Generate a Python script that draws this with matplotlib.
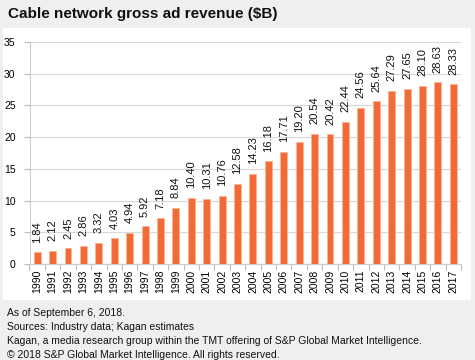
import matplotlib.pyplot as plt
from matplotlib.patches import Rectangle

years = [str(y) for y in range(1990, 2018)]
revenue = [1.84, 2.12, 2.45, 2.86, 3.32, 4.03, 4.94, 5.92, 7.18, 8.84,
           10.40, 10.31, 10.76, 12.58, 14.23, 16.18, 17.71, 19.20, 20.54, 20.42,
           22.44, 24.56, 25.64, 27.29, 27.65, 28.10, 28.63, 28.33]
yticks = [0, 5, 10, 15, 20, 25, 30, 35]

plt.rcParams['font.family'] = ['Liberation Sans', 'DejaVu Sans']

fig = plt.figure(figsize=(4.75, 3.6), dpi=100, facecolor='#efefef')
# white panel behind the chart
fig.patches.append(Rectangle((3 / 475, 1 - 300 / 360), 468 / 475, 272 / 360,
                             transform=fig.transFigure, facecolor='white',
                             edgecolor='none', zorder=-5))

ax = fig.add_axes([29.5 / 475, 1 - 264 / 360, 431.5 / 475, 222 / 360])
ax.set_facecolor('none')

x = list(range(len(years)))
ax.bar(x, revenue, width=0.45, color='#f26b36', edgecolor='#f8b597', linewidth=0.6, zorder=3)
for xi, v in zip(x, revenue):
    ax.annotate(f"{v:.2f}", (xi, v), xytext=(0, 7), textcoords='offset points',
                rotation=90, ha='center', va='bottom', fontsize=8, color='#111111')

ax.set_xlim(-0.5, len(years) - 0.5)
ax.set_ylim(0, 35)
ax.set_yticks(yticks)
ax.set_yticklabels([str(t) for t in yticks], fontsize=7.5)
ax.yaxis.grid(True, color='#d9d9d9', linewidth=0.9, zorder=0)
ax.set_axisbelow(True)

ax.set_xticks(x)
ax.set_xticklabels(years, rotation=90, fontsize=7.5)
ax.tick_params(axis='x', length=0, pad=4)
ax.set_xticks([i - 0.5 for i in range(len(years) + 1)], minor=True)
ax.tick_params(axis='x', which='minor', length=4, color='#bbbbbb', width=0.8)
ax.tick_params(axis='y', length=4, color='#bbbbbb', width=0.8, pad=6)

for s in ['top', 'right']:
    ax.spines[s].set_visible(False)
ax.spines['left'].set_color('#cccccc')
ax.spines['bottom'].set_color('#cccccc')

fig.text(8 / 475, 1 - 14 / 360, "Cable network gross ad revenue ($B)",
         fontsize=11, fontweight='bold', va='center', ha='left', color='#111111')

notes = ["As of September 6, 2018.",
         "Sources: Industry data; Kagan estimates",
         "Kagan, a media research group within the TMT offering of S&P Global Market Intelligence.",
         "\u00a9 2018 S&P Global Market Intelligence. All rights reserved."]
for i, line in enumerate(notes):
    fig.text(7 / 475, 1 - (313 + i * 14) / 360, line, fontsize=7.5,
             va='center', ha='left', color='#111111')

fig.savefig('out.png', dpi=100, facecolor=fig.get_facecolor())
